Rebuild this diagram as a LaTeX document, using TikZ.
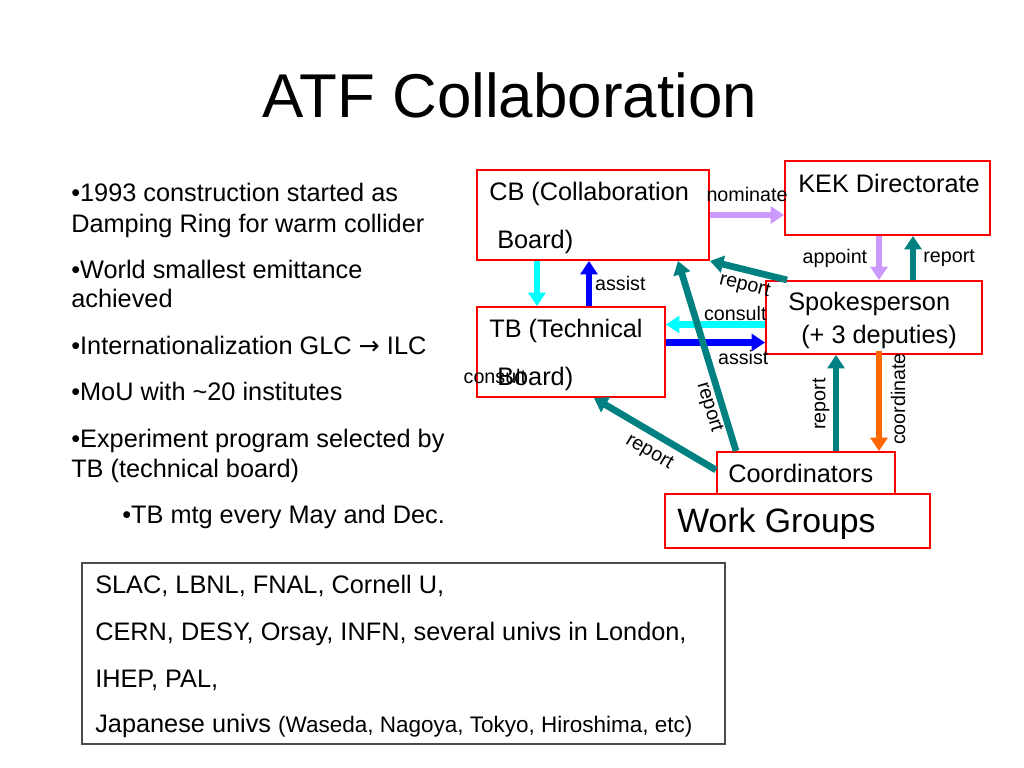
\documentclass[tikz,border=0pt]{standalone}
\usepackage{fontspec}
\setmainfont{Liberation Sans}
\newfontfamily\arrowfont{DejaVu Sans}
\usetikzlibrary{calc,arrows.meta}
\definecolor{atfred}{RGB}{255,0,0}
\definecolor{atfteal}{RGB}{0,128,128}
\definecolor{atflav}{RGB}{204,153,255}
\definecolor{atfcyan}{RGB}{0,255,255}
\definecolor{atfblue}{RGB}{0,0,255}
\definecolor{atforange}{RGB}{255,102,0}
\def\px{0.025cm}
\tikzset{
	orgbox/.style={draw=atfred, line width=1.4pt, inner sep=0pt},
	txt/.style={anchor=base west, inner sep=0pt, font=\fontsize{18}{21}\selectfont},
	lbl/.style={inner sep=1pt, font=\fontsize{14}{16}\selectfont},
	fat/.style={line width=4.8pt, -{Triangle[width=12pt,length=9.5pt]}},
}

\begin{document}
\begin{tikzpicture}[x=\px, y=-\px]
			%%%%% START %%%%%
			\useasboundingbox (0,0) rectangle (1024,768);

			\node[anchor=base, inner sep=0pt, font=\fontsize{44}{50}\selectfont] (title) at (510,118) {ATF Collaboration};

			% left column
			\node[txt] (b1) at (71,201) {•1993 construction started as};
			\node[txt] (b1b) at (71,232) {Damping Ring for warm collider};
			\node[txt] (b2) at (71,278) {•World smallest emittance};
			\node[txt] (b2b) at (71,307) {achieved};
			\node[txt] (b3) at (71,354) {•Internationalization GLC {\arrowfont →} ILC};
			\node[txt] (b4) at (71,400) {•MoU with \textasciitilde20 institutes};
			\node[txt] (b5) at (71,447) {•Experiment program selected by};
			\node[txt] (b5b) at (71,477) {TB (technical board)};
			\node[txt] (b6) at (122,523) {•TB mtg every May and Dec.};

			% boxes
			\node[orgbox, minimum width=232*\px, minimum height=90*\px] (cb) at (593,215) {};
			\node[orgbox, minimum width=205*\px, minimum height=74*\px] (kek) at (887.5,198) {};
			\node[orgbox, minimum width=216*\px, minimum height=73*\px] (sp) at (874,317.5) {};
			\node[orgbox, minimum width=188*\px, minimum height=90*\px] (tb) at (571,352) {};
			\node[orgbox, minimum width=265*\px, minimum height=54*\px] (wg) at (797.5,521) {};
			\node[orgbox, minimum width=178*\px, minimum height=42*\px] (co) at (806,473) {};

			\node[lbl, anchor=base west] (conlbl2) at (462,383) {consult};
			\node[txt] (cbtxt) at (489,200) {CB (Collaboration};
			\node[txt] (cbtxtb) at (497,248) {Board)};
			\node[txt] (kektxt) at (798,192) {KEK Directorate};
			\node[txt] (sptxt) at (788,310) {Spokesperson};
			\node[txt] (sptxtb) at (801,343) {(+ 3 deputies)};
			\node[txt] (tbtxt) at (489,337) {TB (Technical};
			\node[txt] (tbtxtb) at (497,385) {Board)};
			\node[txt] (cotxt) at (728,482) {Coordinators};
			\node[txt, font=\fontsize{24}{28}\selectfont] (wgtxt) at (677,532) {Work Groups};

			% arrow ends
			\coordinate (appx) at ($(sp.north)+(5,0)$);
			\coordinate (repx) at ($(sp.north)+(39,0)$);
			\coordinate (cbtbx) at ($(tb.north)+(-34,0)$);
			\coordinate (tbcbx) at ($(tb.north)+(18,0)$);
			\coordinate (cony) at ($(sp.west)+(0,7)$);
			\coordinate (assy) at ($(sp.west)+(0,25)$);
			\coordinate (corepx) at ($(co.north)+(30,0)$);
			\coordinate (coordx) at ($(sp.south)+(5,-4)$);

			% arrows
			\draw[fat, atflav] (cb.east) -- (cb.east -| kek.west) node[lbl, midway, above=6pt, text=black] (nomlbl) {nominate};
			\draw[fat, atflav] (appx |- kek.south) -- (appx) node[lbl, midway, left=5pt, text=black] (applbl) {appoint};
			\draw[fat, atfteal] (repx) -- (repx |- kek.south) node[lbl, midway, right=4pt, text=black] (replbl) {report};
			\draw[fat, atfcyan] (cbtbx |- cb.south) -- (cbtbx);
			\draw[fat, atfblue] (tbcbx) -- (tbcbx |- cb.south) node[lbl, midway, right=1pt, text=black] (asslbl) {assist};
			\draw[fat, atfteal] ($(sp.north west)+(22,0)$) -- (cb.south east) node[lbl, midway, sloped, below=2pt, text=black] (replblb) {report};
			\draw[fat, atfcyan] (cony) -- (cony -| tb.east) node[lbl, pos=0.3, above=-1pt, text=black] (conlbl) {consult};
			\draw[fat, atfblue] (assy -| tb.east) -- (assy) node[lbl, pos=0.78, below=2pt, text=black] (asslblb) {assist};
			\draw[fat, atfteal] ($(co.north west)+(20,0)$) -- ($(cb.south east)+(-32,0)$) node[lbl, pos=0.25, sloped, below, text=black] (replblc) {report};
			\draw[fat, atfteal] ($(co.west)+(0,-3)$) -- ($(tb.south)+(23,0)$) node[lbl, pos=0.47, sloped, below=4pt, text=black] (replbld) {report};
			\draw[fat, atfteal] (corepx) -- (corepx |- sp.south);
			\draw[fat, atforange] (coordx) -- (coordx |- co.north);
			\node[lbl, rotate=90] (replble) at ($(co.north)+(15,-47)$) {report};
			\node[lbl, rotate=90] (coolbl) at ($(co.north)+(92,-52)$) {coordinate};

			% institutes
			\node[draw=black!70, line width=0.8pt, minimum width=643*\px, minimum height=181*\px, inner sep=0pt] (inst) at (403.5,653.5) {};
			\node[txt] (inst1) at (95,593) {SLAC, LBNL, FNAL, Cornell U,};
			\node[txt] (inst2) at (95,640) {CERN, DESY, Orsay, INFN, several univs in London,};
			\node[txt] (inst3) at (95,687) {IHEP, PAL,};
			\node[txt] (inst4) at (95,732) {Japanese univs {\fontsize{16}{19}\selectfont (Waseda, Nagoya, Tokyo, Hiroshima, etc)}};
			%%%%% END %%%%%
\end{tikzpicture}
\end{document}
